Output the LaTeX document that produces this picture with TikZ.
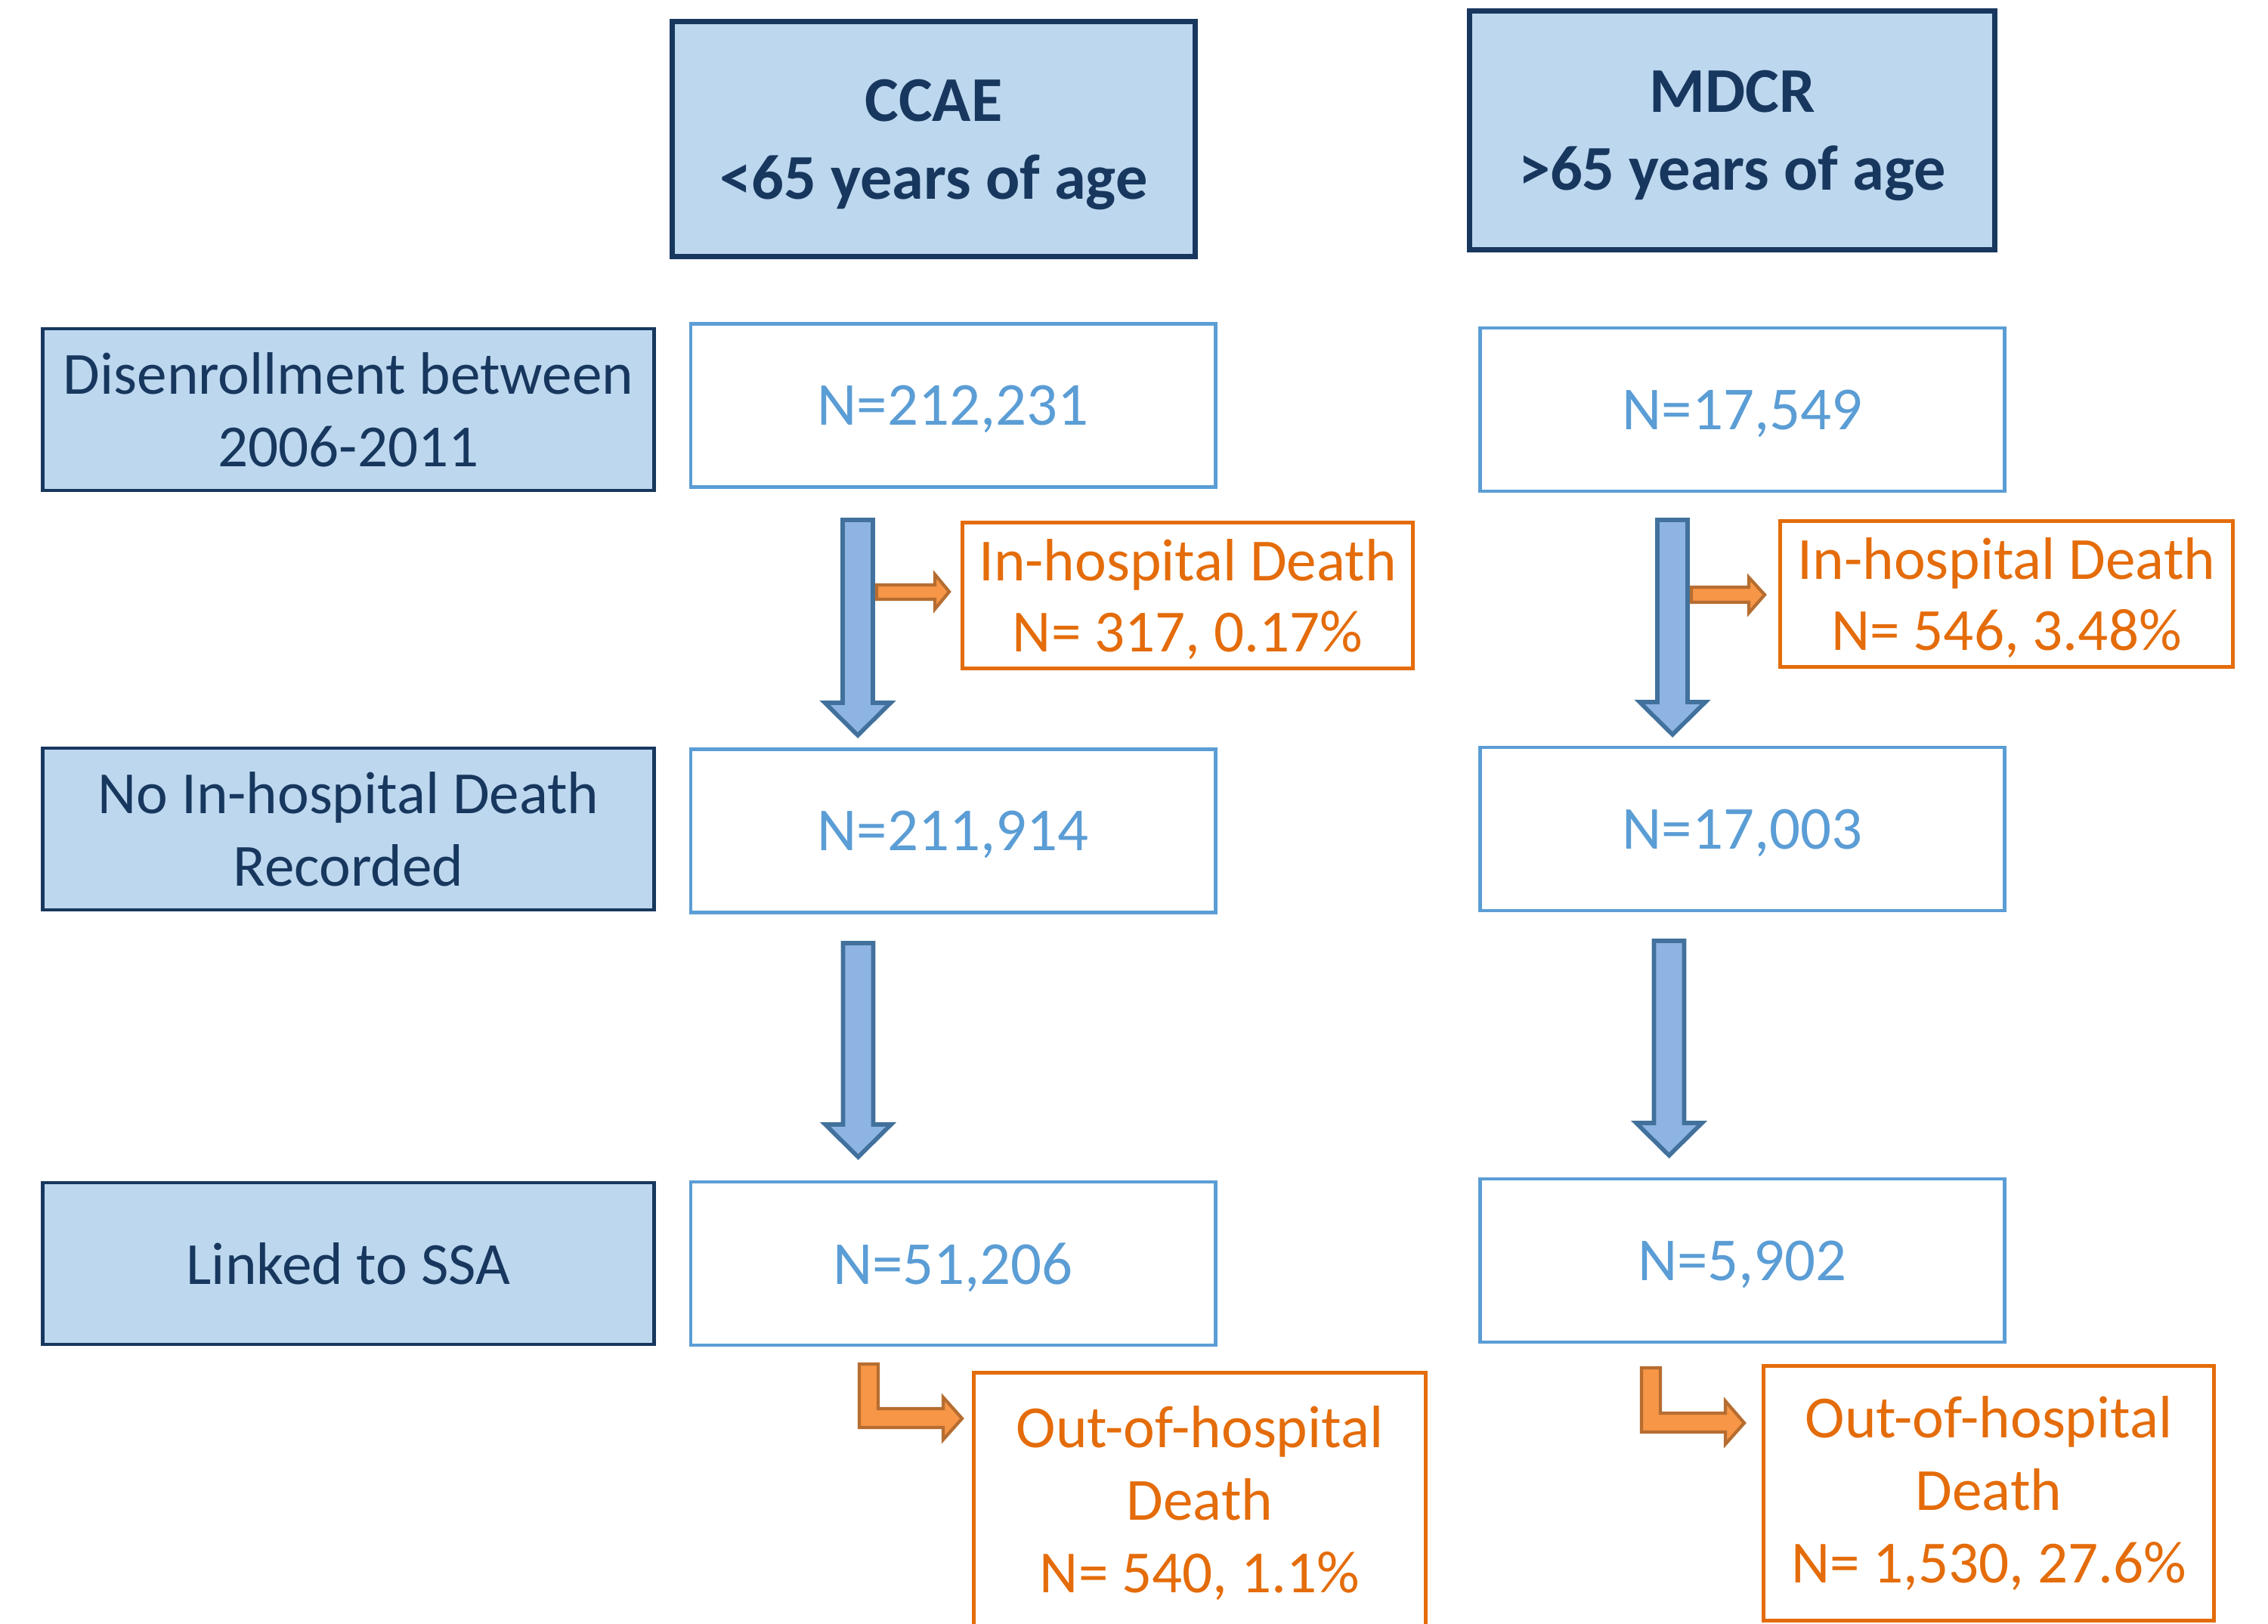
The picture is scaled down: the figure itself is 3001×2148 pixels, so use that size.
\documentclass[tikz,border=0pt]{standalone}
\usepackage{fontspec}
\setmainfont{Carlito}
\usepackage{tikz}
\definecolor{navy}{RGB}{23,55,94}
\definecolor{headfill}{RGB}{189,215,238}
\definecolor{valblue}{RGB}{91,157,213}
\definecolor{deathor}{RGB}{228,108,10}
\definecolor{arrfill}{RGB}{142,180,227}
\definecolor{arrline}{RGB}{65,113,156}
\definecolor{orfill}{RGB}{247,150,70}
\definecolor{orline}{RGB}{182,109,49}
\tikzset{
dbhead/.style={draw=navy,fill=headfill,line width=2pt,text=navy,align=center,inner sep=0pt,text depth=0pt,font=\bfseries\fontsize{24}{29.3}\selectfont,minimum width=6.92cm,minimum height=3.11cm},
rowlab/.style={draw=navy,fill=headfill,line width=1.3pt,text=navy,align=center,inner sep=0pt,font=\fontsize{22.5}{27.3}\selectfont,minimum width=8.08cm,minimum height=2.14cm},
valbox/.style={draw=valblue,fill=white,line width=1.3pt,text=valblue,align=center,inner sep=0pt,text depth=0pt,font=\fontsize{23}{27.6}\selectfont,minimum width=6.94cm,minimum height=2.16cm},
deathbox/.style={draw=deathor,fill=white,line width=1.3pt,text=deathor,align=center,inner sep=0pt,font=\fontsize{22.5}{27}\selectfont,minimum width=5.96cm,minimum height=1.93cm},
downarr/.style={draw=arrline,fill=arrfill,line width=1.6pt},
sidearr/.style={draw=orline,fill=orfill,line width=1.2pt},
bentarr/.style={draw=orline,fill=orfill,line width=1.2pt}
}
\begin{document}
\begin{tikzpicture}[x=0.01cm,y=-0.01cm]
\useasboundingbox (0,0) rectangle (3001,2148);
\clip (0,0) rectangle (3001,2148);
\node[dbhead](ccae) at (1235.5,184){CCAE\\<65 years of age};
\node[dbhead,minimum width=6.95cm,minimum height=3.16cm](mdcr) at (2292,172.5){MDCR\\>65 years of age};
\node[rowlab](disenr) at (461,542){Disenrollment between\\2006-2011};
\node[rowlab](nodeath) at (461,1097){No In-hospital Death\\Recorded};
\node[rowlab](linked) at (461,1672){Linked to SSA};
\node[valbox](ccaeA) at (1261,536.5){N=212,231};
\node[valbox](ccaeB) at (1261,1099.5){N=211,914};
\node[valbox](ccaeC) at (1261,1672){N=51,206};
\node[valbox](mdcrA) at (2305.5,542){N=17,549};
\node[valbox](mdcrB) at (2305.5,1097){N=17,003};
\node[valbox](mdcrC) at (2305.5,1668){N=5,902};
\node[deathbox,text depth=0pt](ccaeIn) at (1571.5,788){In-hospital Death\\N= 317, 0.17\%};
\node[deathbox,text depth=0pt,minimum width=5.99cm](mdcrIn) at (2655,786){In-hospital Death\\N= 546, 3.48\%};
\node[deathbox,minimum width=5.98cm,minimum height=3.46cm,font=\fontsize{22.5}{27.3}\selectfont](ccaeOut) at (1587.5,1989.5){Out-of-hospital\\Death\\N= 540, 1.1\%};
\node[deathbox,minimum height=3.37cm,font=\fontsize{22.5}{27.3}\selectfont](mdcrOut) at (2631.5,1976){Out-of-hospital\\Death\\N= 1,530, 27.6\%};
\path[downarr](1115,688)--(1155,688)--(1155,930)--(1178.5,930)--(1135,973)--(1091.5,930)--(1115,930)--cycle;
\path[downarr](2193,688)--(2233,688)--(2233,929)--(2256.5,929)--(2213,972)--(2169.5,929)--(2193,929)--cycle;
\path[downarr](1115.5,1248)--(1155.5,1248)--(1155.5,1488)--(1179,1488)--(1135.5,1531)--(1092,1488)--(1115.5,1488)--cycle;
\path[downarr](2188.5,1245)--(2228.5,1245)--(2228.5,1486)--(2252,1486)--(2208.5,1529)--(2165,1486)--(2188.5,1486)--cycle;
\path[sidearr](1160,774)--(1237,774)--(1237,760)--(1256,783)--(1237,806)--(1237,793)--(1160,793)--cycle;
\path[sidearr](2238,777)--(2314,777)--(2314,764)--(2335,787)--(2314,811)--(2314,797)--(2238,797)--cycle;
\path[bentarr](1137,1805)--(1162,1805)--(1162,1864)--(1248,1864)--(1248,1849)--(1273,1877)--(1248,1905)--(1248,1889)--(1137,1889)--cycle;
\path[bentarr](2172,1810)--(2197,1810)--(2197,1870)--(2283,1870)--(2283,1854)--(2308,1883)--(2283,1911)--(2283,1895)--(2172,1895)--cycle;
\end{tikzpicture}
\end{document}
